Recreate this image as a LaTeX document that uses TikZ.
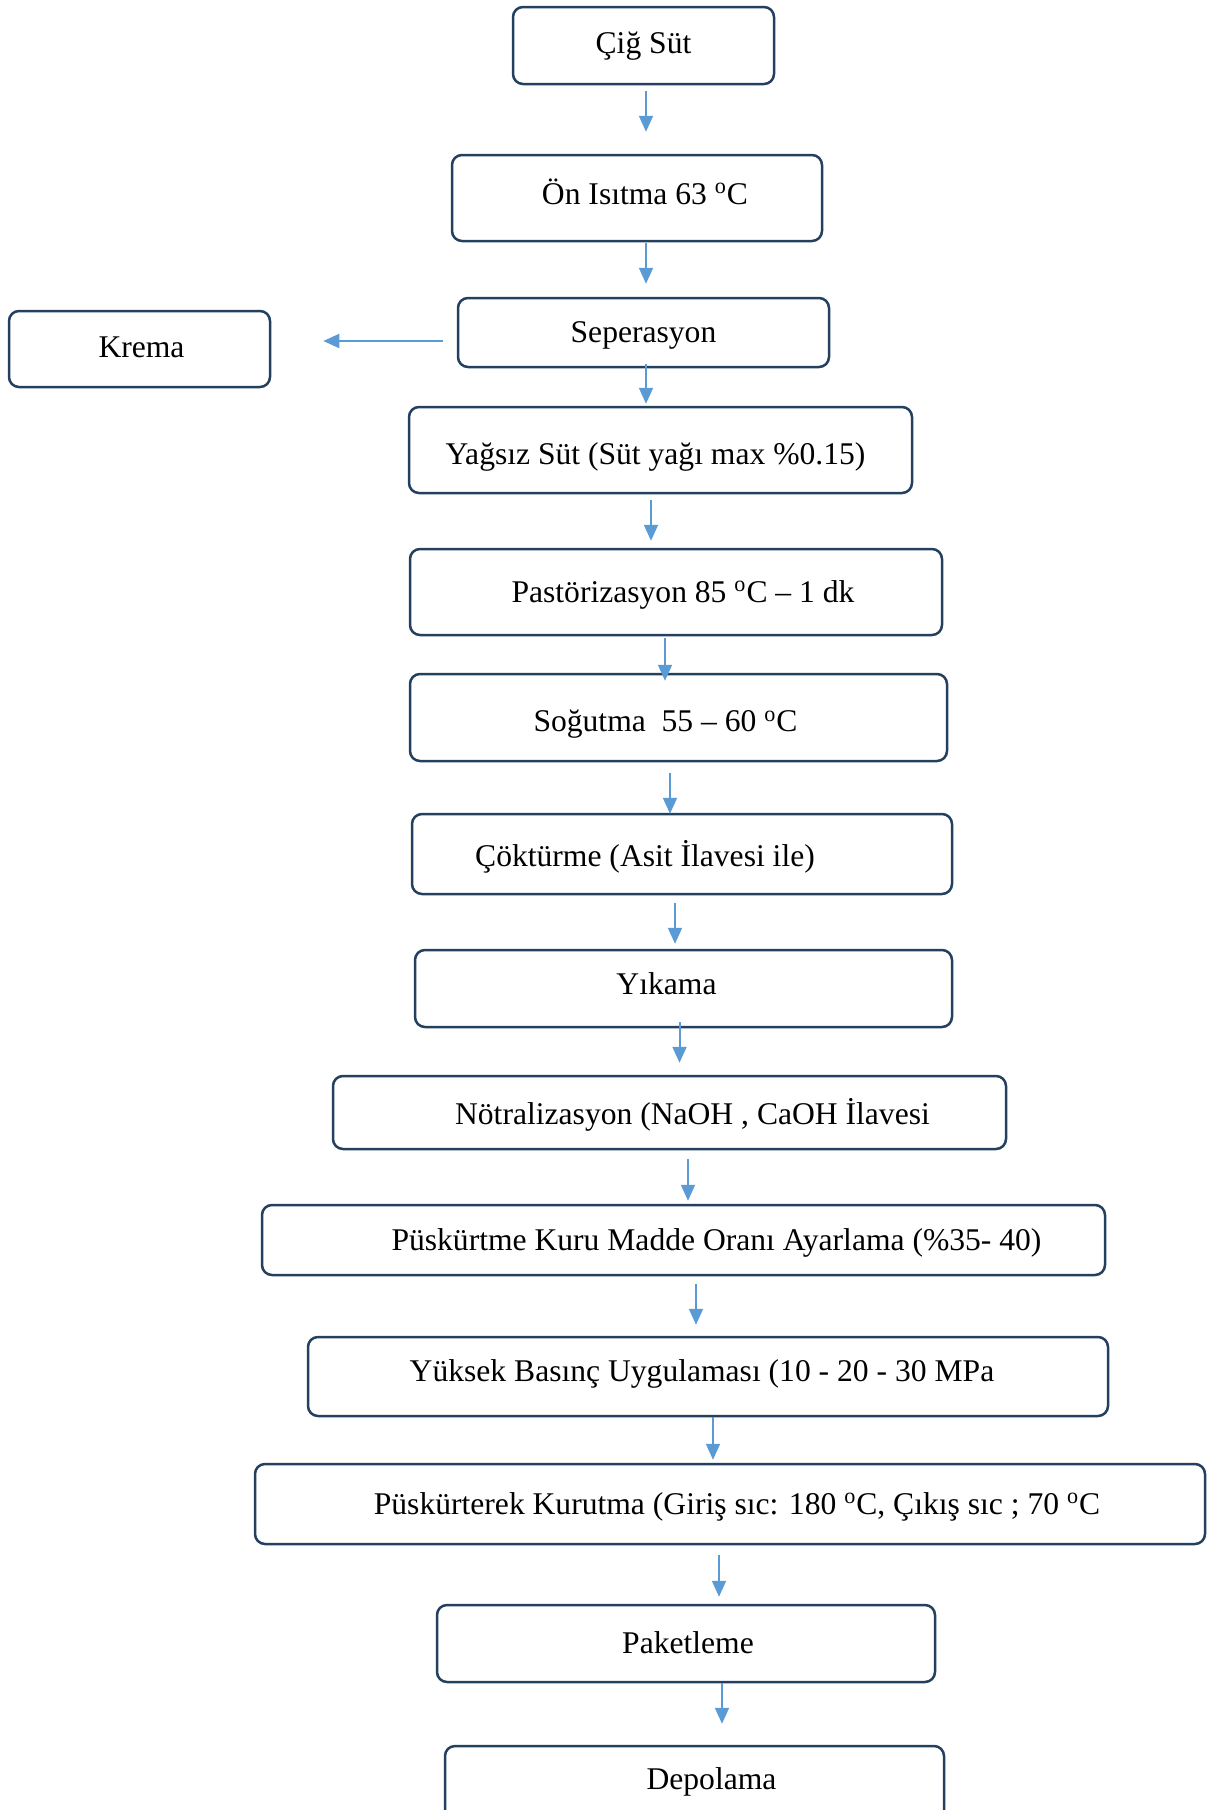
\documentclass[tikz,border=0pt]{standalone}
\usepackage{fontspec}
\setmainfont{Liberation Serif}
\usepackage{xcolor}
\usepackage{tikz}
\usetikzlibrary{arrows.meta}
\definecolor{boxline}{HTML}{23405F}
\definecolor{arrowblue}{HTML}{5B9BD5}
\newcommand\degC{\textsuperscript{o}C}
% text with its baseline fixed below the box centre, raised by #1
\newcommand\steptext[2]{\raisebox{\dimexpr#1-5.2pt\relax}[0pt][0pt]{#2}}
\tikzstyle{stepbox}=[draw=boxline,line width=1.25pt,rounded corners=5pt,inner sep=0pt,
  font=\fontsize{15.8pt}{18pt}\selectfont]
\tikzstyle{flow}=[draw=arrowblue,line width=1pt,-{Triangle[length=8pt,width=7pt]}]

\begin{document}
\begin{tikzpicture}[x=0.5pt,y=-0.5pt]
	\useasboundingbox (0,0) rectangle (1208,1810);
	\clip (0,0) rectangle (1208,1810);
	% process steps
	\node[stepbox,minimum width=130.5pt,minimum height=38.5pt] (cig)     at (643.5,45.5)  {\steptext{1.4pt}{Çiğ Süt}};
	\node[stepbox,minimum width=185pt,minimum height=43pt]     (isitma)  at (637,198)     {\steptext{2pt}{\hspace*{8pt}Ön Isıtma 63 \degC}};
	\node[stepbox,minimum width=185.5pt,minimum height=34.5pt] (sep)     at (643.5,332.5) {\steptext{0pt}{Seperasyon}};
	\node[stepbox,minimum width=130.5pt,minimum height=38pt]   (krema)   at (139.5,349)   {\steptext{1.2pt}{\hspace*{2pt}Krema}};
	\node[stepbox,minimum width=251.5pt,minimum height=43pt]   (yagsiz)  at (660.5,450)   {\steptext{-2pt}{Yağsız Süt (Süt yağı max \%0.15)\hspace*{5pt}}};
	\node[stepbox,minimum width=266pt,minimum height=43pt]     (past)    at (676,592)     {\steptext{0pt}{\hspace*{7pt}Pastörizasyon 85 \degC{} – 1 dk}};
	\node[stepbox,minimum width=268.5pt,minimum height=43.5pt] (sog)     at (678.5,717.5) {\steptext{-2pt}{Soğutma\ \ 55 – 60 \degC\hspace*{13pt}}};
	\node[stepbox,minimum width=270pt,minimum height=40pt]     (cok)     at (682,854)     {\steptext{-0.9pt}{Çöktürme (Asit İlavesi ile)\hspace*{37pt}}};
	\node[stepbox,minimum width=268.5pt,minimum height=38.5pt] (yik)     at (683.5,988.5) {\steptext{2.3pt}{Yıkama\hspace*{17pt}}};
	\node[stepbox,minimum width=336.5pt,minimum height=36.5pt] (notr)    at (669.5,1112.5){\steptext{-0.9pt}{\hspace*{23pt}Nötralizasyon (NaOH , CaOH İlavesi}};
	\node[stepbox,minimum width=421.5pt,minimum height=35pt]   (kuru)    at (683.5,1240)  {\steptext{0pt}{\hspace*{33pt}Püskürtme Kuru Madde Oranı Ayarlama (\%35- 40)}};
	\node[stepbox,minimum width=400pt,minimum height=39.5pt]   (basinc)  at (708,1376.5)  {\steptext{2.9pt}{Yüksek Basınç Uygulaması (10 - 20 - 30 MPa\hspace*{6pt}}};
	\node[stepbox,minimum width=475pt,minimum height=40pt]     (kurutma) at (730,1504)    {\steptext{0pt}{\hspace*{7pt}Püskürterek Kurutma (Giriş sıc: 180 \degC, Çıkış sıc ; 70 \degC}};
	\node[stepbox,minimum width=249pt,minimum height=38.5pt]   (paket)   at (686,1643.5)  {\steptext{0pt}{\hspace*{2pt}Paketleme}};
	\node[stepbox,minimum width=249.5pt,minimum height=38pt]   (depo)    at (694.5,1784)  {\steptext{2.3pt}{\hspace*{17pt}Depolama}};
	% arrows
	\draw[flow,shorten <=3pt,shorten >=11pt]    (cig.south -| 646,0)     -- (isitma.north -| 646,0);
	\draw[flow,shorten <=0.5pt,shorten >=6.5pt] (isitma.south -| 646,0)  -- (sep.north -| 646,0);
	\draw[flow,shorten <=7pt,shorten >=26pt]    (sep.west |- 0,341)      -- (krema.east |- 0,341);
	\draw[flow,shorten <=-2pt,shorten >=1pt]    (sep.south -| 646,0)     -- (yagsiz.north -| 646,0);
	\draw[flow,shorten <=3pt,shorten >=3.5pt]   (yagsiz.south -| 651,0)  -- (past.north -| 651,0);
	\draw[flow,shorten <=1pt,shorten >=-4pt]    (past.south -| 665,0)    -- (sog.north -| 665,0);
	\draw[flow,shorten <=5.5pt,shorten >=-0.5pt](sog.south -| 670,0)     -- (cok.north -| 670,0);
	\draw[flow,shorten <=4pt,shorten >=2.5pt]   (cok.south -| 675,0)     -- (yik.north -| 675,0);
	\draw[flow,shorten <=-3pt,shorten >=6pt]    (yik.south -| 679.5,0)   -- (notr.north -| 679.5,0);
	\draw[flow,shorten <=4.5pt,shorten >=1.5pt] (notr.south -| 688,0)    -- (kuru.north -| 688,0);
	\draw[flow,shorten <=4pt,shorten >=5.5pt]   (kuru.south -| 696,0)    -- (basinc.north -| 696,0);
	\draw[flow,shorten <=0pt,shorten >=1.5pt]   (basinc.south -| 713,0)  -- (kurutma.north -| 713,0);
	\draw[flow,shorten <=5pt,shorten >=3.5pt]   (kurutma.south -| 719,0) -- (paket.north -| 719,0);
	\draw[flow,shorten <=0pt,shorten >=10.5pt]  (paket.south -| 722,0)   -- (depo.north -| 722,0);
\end{tikzpicture}
\end{document}
